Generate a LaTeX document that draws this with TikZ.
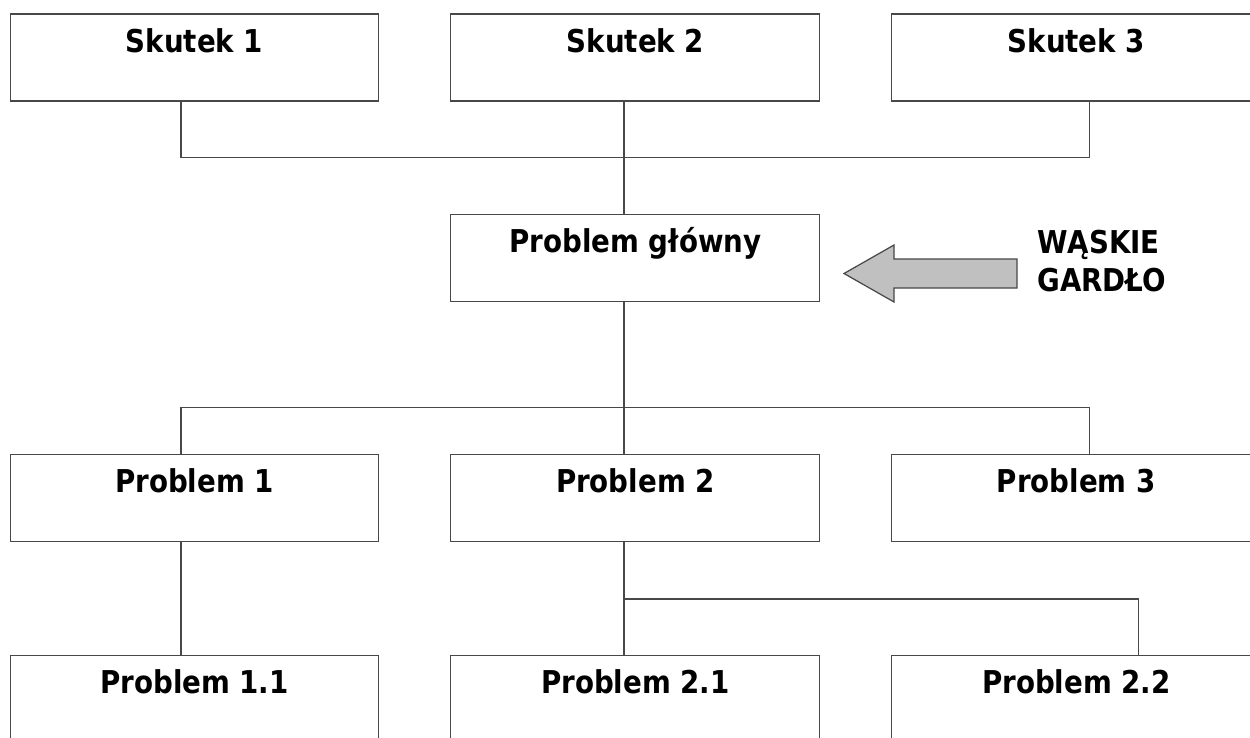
\documentclass[tikz,border=0pt]{standalone}
\usepackage{fontspec}
\newfontfamily\boxfont{DejaVu Sans}[FakeStretch=0.88]
\usetikzlibrary{positioning}
\definecolor{linegray}{RGB}{72,72,72}
\definecolor{arrowfill}{RGB}{192,192,192}

\begin{document}
\begin{tikzpicture}[
  x=0.02cm, y=-0.02cm,
  font=\boxfont\bfseries\fontsize{17.9}{21.6}\selectfont,
  box/.style={draw=linegray, line width=0.6pt, minimum width=7.38cm,
    inner xsep=0pt, inner ysep=0pt, outer sep=0pt,
    text height=0.76cm, text depth=0.98cm},
  conn/.style={draw=linegray, line width=0.6pt},
  fatarrow/.style={draw=linegray, line width=0.7pt, fill=arrowfill, line join=miter},
  note/.style={align=left, inner sep=0pt}
]
\useasboundingbox (0,0) rectangle (1250,737);
\clip (0,0) rectangle (1250,737);
\fill[white] (0,0) rectangle (1250,737);

\node[box] (sk1) at (194.5,57.5) {Skutek 1};
\node[box, right=1.44cm of sk1] (sk2) {Skutek 2};
\node[box, right=1.44cm of sk2] (sk3) {Skutek 3};

\node[box, below=2.28cm of sk2] (pg) {Problem główny};

\node[box, below=3.06cm of pg] (pr2) {Problem 2};
\node[box, left=1.44cm of pr2] (pr1) {Problem 1};
\node[box, right=1.44cm of pr2] (pr3) {Problem 3};

\node[box, below=2.28cm of pr2] (p21) {Problem 2.1};
\node[box, left=1.44cm of p21] (p11) {Problem 1.1};
\node[box, right=1.44cm of p21] (p22) {Problem 2.2};

% junctions of the tree lines
\coordinate (busA) at (624,157.5);
\coordinate (busB) at (624,407.5);
\coordinate (busC) at (624,599);

\draw[conn] ([xshift=-0.27cm]sk1.south) |- (busA) -| ([xshift=0.27cm]sk3.south);
\draw[conn] (sk2.south -| busA) -- (pg.north -| busA);
\draw[conn] (pg.south -| busB) -- (busB);
\draw[conn] ([xshift=-0.27cm]pr1.north) |- (busB) -| ([xshift=0.27cm]pr3.north);
\draw[conn] (pr2.north -| busB) -- (busB);
\draw[conn] ([xshift=-0.27cm]pr1.south) -- ([xshift=-0.27cm]p11.north);
\draw[conn] (pr2.south -| busC) -- (p21.north -| busC);
\draw[conn] (busC) -| ([xshift=1.25cm]p22.north);

% bottleneck arrow
\coordinate (tip) at (844,273.5);
\draw[fatarrow] (tip) -- ++(50,-28.5) -- ++(0,14) -- ++(123,0) -- ++(0,29)
  -- ++(-123,0) -- ++(0,14) -- cycle;
\node[note, anchor=north west] (wg) at (1037,230) {WĄSKIE\\GARDŁO};
\end{tikzpicture}
\end{document}
